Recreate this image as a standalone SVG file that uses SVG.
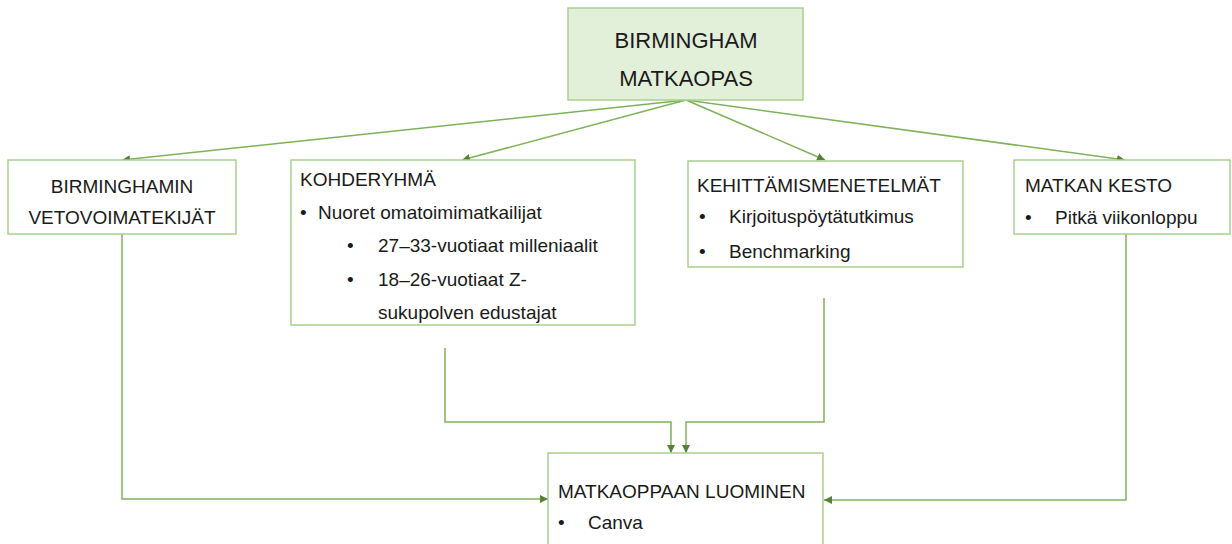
<svg xmlns="http://www.w3.org/2000/svg" width="1232" height="544" viewBox="0 0 1232 544">
<style>
.box{fill:#ffffff;stroke:#a9d18e;stroke-width:1.5}
.top{fill:#e2efd9;stroke:#a9d18e;stroke-width:1.5}
.t{font-family:"Liberation Sans",Arial,sans-serif;font-size:19px;fill:#1a1a1a}
.tc{text-anchor:middle}
.big{font-size:22px}
.c{fill:none;stroke:#7fb25a;stroke-width:1.5}
</style>
<defs>
<marker id="ah" viewBox="0 0 10 10" refX="10" refY="5" markerWidth="8" markerHeight="8" markerUnits="userSpaceOnUse" orient="auto">
<path d="M0,0 L10,5 L0,10 z" fill="#548235"/>
</marker>
</defs>
<rect width="1232" height="544" fill="#ffffff"/>
<g id="connectors">
<line class="c" x1="686" y1="100" x2="122" y2="160" marker-end="url(#ah)"/>
<line class="c" x1="686" y1="100" x2="462" y2="160" marker-end="url(#ah)"/>
<line class="c" x1="686" y1="100" x2="825" y2="160" marker-end="url(#ah)"/>
<line class="c" x1="686" y1="100" x2="1125" y2="160" marker-end="url(#ah)"/>
<polyline class="c" points="122,234 122,499 548,499" marker-end="url(#ah)"/>
<polyline class="c" points="445,348 445,422 671,422 671,453" marker-end="url(#ah)"/>
<polyline class="c" points="824,298 824,422 686,422 686,453" marker-end="url(#ah)"/>
<polyline class="c" points="1126,234 1126,500 824,500" marker-end="url(#ah)"/>
</g>
<g id="n-top">
<rect class="top" x="568" y="8" width="235" height="92"/>
<text class="t tc big" x="686" y="48">BIRMINGHAM</text>
<text class="t tc big" x="686" y="86">MATKAOPAS</text>
</g>
<g id="n-vetovoima">
<rect class="box" x="8" y="160" width="228" height="74"/>
<text class="t tc" x="122" y="193">BIRMINGHAMIN</text>
<text class="t tc" x="122" y="224">VETOVOIMATEKIJÄT</text>
</g>
<g id="n-kohderyhma">
<rect class="box" x="291" y="160" width="344" height="165"/>
<text class="t" x="300" y="186">KOHDERYHMÄ</text>
<text class="t" x="300" y="219">•</text>
<text class="t" x="318" y="219">Nuoret omatoimimatkailijat</text>
<text class="t" x="347" y="252">•</text>
<text class="t" x="378" y="252">27–33-vuotiaat milleniaalit</text>
<text class="t" x="347" y="286">•</text>
<text class="t" x="378" y="286">18–26-vuotiaat Z-</text>
<text class="t" x="378" y="319">sukupolven edustajat</text>
</g>
<g id="n-kehittamis">
<rect class="box" x="688" y="161" width="275" height="106"/>
<text class="t" x="697" y="192">KEHITTÄMISMENETELMÄT</text>
<text class="t" x="699" y="223">•</text>
<text class="t" x="729" y="223">Kirjoituspöytätutkimus</text>
<text class="t" x="699" y="258">•</text>
<text class="t" x="729" y="258">Benchmarking</text>
</g>
<g id="n-kesto">
<rect class="box" x="1014" y="160" width="216" height="74"/>
<text class="t" x="1025" y="192">MATKAN KESTO</text>
<text class="t" x="1025" y="224">•</text>
<text class="t" x="1055" y="224">Pitkä viikonloppu</text>
</g>
<g id="n-luominen">
<rect class="box" x="548" y="453" width="275" height="100"/>
<text class="t" x="558" y="498">MATKAOPPAAN LUOMINEN</text>
<text class="t" x="558" y="529">•</text>
<text class="t" x="588" y="529">Canva</text>
</g>
</svg>
